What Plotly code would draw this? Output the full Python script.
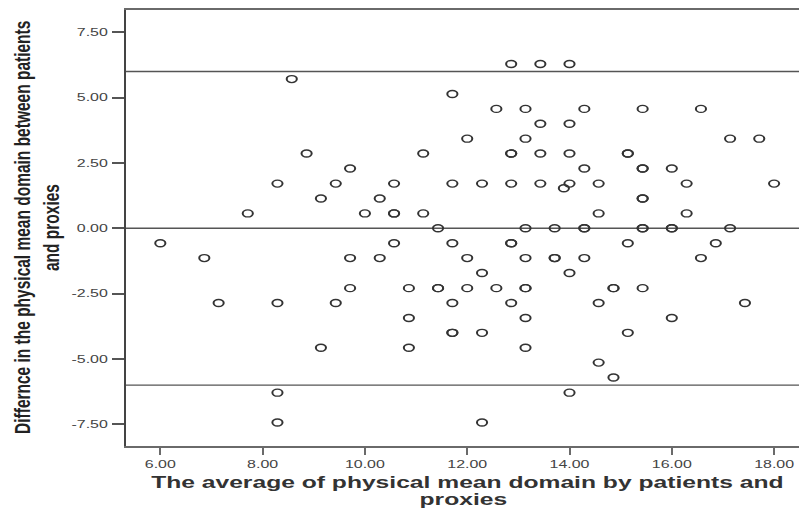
import plotly.graph_objects as go

# Average of patient and proxy scores (x) and their difference (y), one entry per pair
avg_physical = [
    12.86, 13.43, 14.00,
    8.57,
    11.71,
    12.57, 13.14, 14.29, 15.43, 16.57,
    13.43, 14.00,
    12.00, 13.14, 17.14, 17.71,
    8.86, 11.14, 12.86, 12.86, 13.43, 14.00, 15.14, 15.14,
    9.71, 14.29, 15.43, 15.43, 16.00,
    8.29, 9.43, 10.57, 11.71, 12.29, 12.86, 13.43, 14.00, 14.57, 16.29, 18.00,
    13.89,
    9.14, 10.29, 15.43, 15.43,
    7.71, 10.00, 10.57, 10.57, 11.14, 14.57, 16.29,
    11.43, 13.14, 13.71, 14.29, 14.29, 15.43, 15.43, 16.00, 16.00, 17.14,
    6.00, 10.57, 11.71, 12.86, 12.86, 15.14, 16.86,
    6.86, 9.71, 10.29, 12.00, 13.14, 13.71, 13.71, 14.29, 16.57,
    12.29, 14.00,
    9.71, 10.86, 11.43, 11.43, 12.00, 12.57, 13.14, 13.14, 14.86, 14.86, 15.43,
    7.14, 8.29, 9.43, 11.71, 12.86, 14.57, 17.43,
    10.86, 13.14, 16.00,
    11.71, 11.71, 12.29, 15.14,
    9.14, 10.86, 13.14,
    14.57,
    14.86,
    8.29, 14.00,
    8.29, 12.29,
]
diff_physical = [
    6.29, 6.29, 6.29,
    5.71,
    5.14,
    4.57, 4.57, 4.57, 4.57, 4.57,
    4.00, 4.00,
    3.43, 3.43, 3.43, 3.43,
    2.86, 2.86, 2.86, 2.86, 2.86, 2.86, 2.86, 2.86,
    2.29, 2.29, 2.29, 2.29, 2.29,
    1.71, 1.71, 1.71, 1.71, 1.71, 1.71, 1.71, 1.71, 1.71, 1.71, 1.71,
    1.53,
    1.14, 1.14, 1.14, 1.14,
    0.57, 0.57, 0.57, 0.57, 0.57, 0.57, 0.57,
    0.00, 0.00, 0.00, 0.00, 0.00, 0.00, 0.00, 0.00, 0.00, 0.00,
    -0.57, -0.57, -0.57, -0.57, -0.57, -0.57, -0.57,
    -1.14, -1.14, -1.14, -1.14, -1.14, -1.14, -1.14, -1.14, -1.14,
    -1.71, -1.71,
    -2.29, -2.29, -2.29, -2.29, -2.29, -2.29, -2.29, -2.29, -2.29, -2.29, -2.29,
    -2.86, -2.86, -2.86, -2.86, -2.86, -2.86, -2.86,
    -3.43, -3.43, -3.43,
    -4.00, -4.00, -4.00, -4.00,
    -4.57, -4.57, -4.57,
    -5.14,
    -5.71,
    -6.29, -6.29,
    -7.43, -7.43,
]

# Mean difference and limits of agreement
agreement_lines = [6.0, 0.0, -6.0]

x_ticks = [6, 8, 10, 12, 14, 16, 18]
x_tick_labels = ["6.00", "8.00", "10.00", "12.00", "14.00", "16.00", "18.00"]
y_ticks = [-7.5, -5.0, -2.5, 0.0, 2.5, 5.0, 7.5]
y_tick_labels = ["-7.50", "-5.00", "-2.50", "0.00", "2.50", "5.00", "7.50"]

y_title_1 = "Differnce in the physical mean domain between patients"
y_title_2 = "and proxies"
x_title_1 = "The average of physical mean domain by patients and"
x_title_2 = "proxies"

ink = "#333333"
axis_grey = "#555555"
frame_grey = "#6a6a6a"
sans = "Liberation Sans, Arial, sans-serif"
tick_font = dict(family=sans, size=11, color="#444444")
title_font = dict(family=sans, size=17, color=ink, weight="bold")
ytitle_font = dict(family=sans, size=15.5, color="#222222", weight="bold")

fig = go.Figure(
    go.Scatter(
        x=avg_physical,
        y=diff_physical,
        mode="markers",
        marker=dict(symbol="circle-open", size=7, color=ink, line=dict(width=1.4)),
        hoverinfo="skip",
    )
)

for level in agreement_lines:
    fig.add_shape(
        type="line", xref="paper", x0=0, x1=1, yref="y", y0=level, y1=level,
        line=dict(color=axis_grey, width=1.4), layer="below",
    )

fig.update_layout(
    width=799,
    height=508,
    margin=dict(l=126, r=0, t=10, b=62),
    paper_bgcolor="white",
    plot_bgcolor="white",
    showlegend=False,
    xaxis=dict(
        range=[5.329, 18.487],
        tickvals=x_ticks,
        ticktext=x_tick_labels,
        ticks="outside",
        ticklen=7,
        tickwidth=1.5,
        tickcolor=frame_grey,
        showline=True,
        linecolor=frame_grey,
        linewidth=2,
        mirror=True,
        showgrid=False,
        zeroline=False,
        tickfont=tick_font,
    ),
    yaxis=dict(
        range=[-8.331, 8.354],
        tickvals=y_ticks,
        ticktext=y_tick_labels,
        ticks="outside",
        ticklen=12,
        tickwidth=1.5,
        tickcolor=axis_grey,
        ticklabelstandoff=2,
        showline=True,
        linecolor="#444444",
        linewidth=2,
        showgrid=False,
        zeroline=False,
        tickfont=tick_font,
    ),
    annotations=[
        dict(
            text=y_title_1, textangle=-90, showarrow=False,
            xref="paper", yref="paper", x=0, y=0.5, xanchor="center", yanchor="middle",
            xshift=-104, font=ytitle_font,
        ),
        dict(
            text=y_title_2, textangle=-90, showarrow=False,
            xref="paper", yref="paper", x=0, y=0.5, xanchor="center", yanchor="middle",
            xshift=-75, font=ytitle_font,
        ),
        dict(
            text=x_title_1, showarrow=False,
            xref="paper", yref="paper", x=0.5, y=0, xanchor="center", yanchor="middle",
            xshift=4, yshift=-36, font=title_font,
        ),
        dict(
            text=x_title_2, showarrow=False,
            xref="paper", yref="paper", x=0.5, y=0, xanchor="center", yanchor="middle",
            xshift=0, yshift=-53, font=title_font,
        ),
    ],
)

# The chart is drawn with a wide aspect: glyphs and markers are widened
# horizontally around their own anchor points once plotly has laid them out.
widen_script = """
(function () {
  var gd = document.getElementById('{plot_id}');
  var S = 1.45;
  function widen(el, ax) {
    var r = el.getBoundingClientRect();
    var svg = el.ownerSVGElement;
    var pt = svg.createSVGPoint();
    pt.x = r.left + r.width * ax;
    pt.y = r.top + r.height / 2;
    var p = pt.matrixTransform(el.parentNode.getScreenCTM().inverse());
    var t = el.getAttribute('transform') || '';
    el.setAttribute('transform', 'translate(' + p.x + ',' + p.y + ') scale(' + S + ',1) translate(' +
      (-p.x) + ',' + (-p.y) + ') ' + t);
  }
  gd.querySelectorAll('.scatterlayer .point').forEach(function (el) { widen(el, 0.5); });
  gd.querySelectorAll('.xtick text').forEach(function (el) { widen(el, 0.5); });
  gd.querySelectorAll('.ytick text').forEach(function (el) { widen(el, 1.0); });
  gd.querySelectorAll('.annotation-text-g').forEach(function (el) { widen(el, 0.5); });
})();
"""

fig.write_html("out.html", post_script=widen_script)
